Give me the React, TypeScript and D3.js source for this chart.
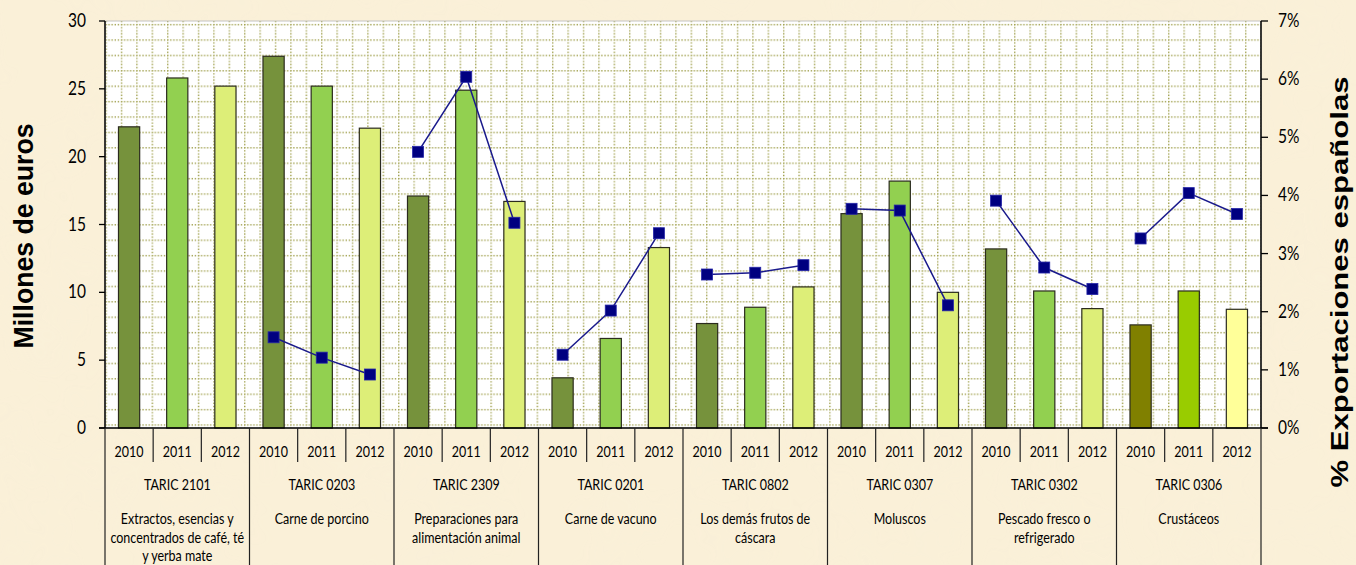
import React from 'react';
import * as d3 from 'd3';

// categorias (TARIC) y descripciones
const groups = ['TARIC 2101', 'TARIC 0203', 'TARIC 2309', 'TARIC 0201', 'TARIC 0802', 'TARIC 0307', 'TARIC 0302', 'TARIC 0306'];
const descriptions = [
  ['Extractos, esencias y', 'concentrados de café, té', 'y yerba mate'],
  ['Carne de porcino'],
  ['Preparaciones para', 'alimentación animal'],
  ['Carne de vacuno'],
  ['Los demás frutos de', 'cáscara'],
  ['Moluscos'],
  ['Pescado fresco o', 'refrigerado'],
  ['Crustáceos'],
];
const years = ['2010', '2011', '2012'];

// Millones de euros
const valores2010 = [22.2, 27.4, 17.1, 3.7, 7.7, 15.8, 13.2, 7.6];
const valores2011 = [25.8, 25.2, 24.9, 6.6, 8.9, 18.2, 10.1, 10.1];
const valores2012 = [25.2, 22.1, 16.7, 13.3, 10.4, 10.0, 8.8, 8.75];

// % Exportaciones españolas
const cuota2010 = [null, 1.56, 4.75, 1.26, 2.64, 3.77, 3.91, 3.26];
const cuota2011 = [null, 1.21, 6.04, 2.02, 2.67, 3.74, 2.76, 4.04];
const cuota2012 = [null, 0.92, 3.53, 3.35, 2.80, 2.11, 2.39, 3.68];

const leftTicks = [0, 5, 10, 15, 20, 25, 30];
const rightTicks = [0, 1, 2, 3, 4, 5, 6, 7];

const barColors = ['#76923C', '#92D050', '#DDEE78'];
const lastGroupColors = ['#808000', '#99CC00', '#FFFF99'];

const font = 'Lato, "Open Sans", sans-serif';

export default function App() {
  const width = 1356;
  const height = 565;
  const margin = { top: 21, right: 95, bottom: 137, left: 105 };
  const plotBottom = height - margin.bottom;
  const plotRight = width - margin.right;

  const x0 = d3.scaleBand().domain(groups).range([margin.left, plotRight]);
  const x1 = d3.scaleBand().domain(years).range([0, x0.bandwidth()]).paddingInner(0.56).paddingOuter(0.28);
  const slot = x0.bandwidth() / years.length;
  const y = d3.scaleLinear().domain([0, 30]).range([plotBottom, margin.top]);
  const y2 = d3.scaleLinear().domain([0, 7]).range([plotBottom, margin.top]);

  const series = [valores2010, valores2011, valores2012];
  const cuotas = [cuota2010, cuota2011, cuota2012];

  const line = d3.line<{ x: number; v: number }>()
    .x(d => d.x)
    .y(d => y2(d.v));

  const vy = 1.25; // the original text is a bit taller than wide

  return (
    <svg width={width} height={height} style={{ position: 'absolute', left: 0, top: 0 }}>
      <defs>
        <pattern id="grid" patternUnits="userSpaceOnUse" x={13} y={8.5} width={15.4} height={15.4}>
          <rect width={15.4} height={15.4} fill="#ffffff" />
          <line x1={0} x2={15.4} y1={0.7} y2={0.7} stroke="#a0a04c" strokeWidth={1.4} strokeDasharray="1.3 1.78" />
          <line x1={0.7} x2={0.7} y1={0} y2={15.4} stroke="#a0a04c" strokeWidth={1.4} strokeDasharray="1.3 1.78" />
        </pattern>
        <filter id="paper" x="0" y="0" width="100%" height="100%">
          <feTurbulence type="fractalNoise" baseFrequency="0.012" numOctaves={3} seed={4} />
          <feColorMatrix type="matrix" values="0 0 0 0 0.95  0 0 0 0 0.87  0 0 0 0 0.70  0 0 0 1.1 -0.45" />
        </filter>
      </defs>

      {/* fondo */}
      <rect width={width} height={height} fill="#FAF0D8" />
      <rect width={width} height={height} filter="url(#paper)" opacity={0.55} />

      {/* area de trazado */}
      <rect x={margin.left} y={margin.top} width={plotRight - margin.left} height={plotBottom - margin.top}
        fill="url(#grid)" stroke="#c4c4c4" strokeWidth={1} />

      {/* barras */}
      {groups.map((g, gi) => (
        <g key={g} transform={`translate(${x0(g)},0)`}>
          {years.map((yr, yi) => {
            const v = series[yi][gi];
            const colors = gi === groups.length - 1 ? lastGroupColors : barColors;
            return (
              <rect key={yr} x={x1(yr)} y={y(v)} width={x1.bandwidth()} height={plotBottom - y(v)}
                fill={colors[yi]} stroke="#2b2b1e" strokeWidth={1.2} />
            );
          })}
        </g>
      ))}

      {/* lineas de cuota */}
      {groups.map((g, gi) => {
        const pts = years
          .map((yr, yi) => ({ x: (x0(g) as number) + (x1(yr) as number) + x1.bandwidth() / 2, v: cuotas[yi][gi] as number }))
          .filter(p => p.v !== null && p.v !== undefined);
        if (!pts.length) return null;
        return (
          <g key={g}>
            <path d={line(pts) || ''} fill="none" stroke="#1a1a8c" strokeWidth={1.5} />
            {pts.map((p, i) => (
              <rect key={i} x={p.x - 5.5} y={y2(p.v) - 5.5} width={11} height={11} fill="#000080" stroke="#2626a8" strokeWidth={0.8} />
            ))}
          </g>
        );
      })}

      {/* eje izquierdo */}
      <line x1={margin.left} x2={margin.left} y1={margin.top} y2={plotBottom} stroke="#000" strokeWidth={1.5} />
      {leftTicks.map(t => (
        <g key={t}>
          <line x1={margin.left - 6} x2={margin.left} y1={y(t)} y2={y(t)} stroke="#000" strokeWidth={1.3} />
          <text transform={`translate(${margin.left - 19},${y(t) + 6}) scale(1,${vy})`} textAnchor="end"
            fontFamily={font} fontSize={15.5} fill="#000">{t}</text>
        </g>
      ))}

      {/* eje derecho */}
      <line x1={plotRight} x2={plotRight} y1={margin.top} y2={plotBottom} stroke="#000" strokeWidth={1.5} />
      {rightTicks.map(t => (
        <g key={t}>
          <line x1={plotRight} x2={plotRight + 7} y1={y2(t)} y2={y2(t)} stroke="#000" strokeWidth={1.3} />
          <text transform={`translate(${plotRight + 17},${y2(t) + 6}) scale(1,${vy})`} textAnchor="start"
            fontFamily={font} fontSize={15.5} fill="#000">{d3.format('.0%')(t / 100)}</text>
        </g>
      ))}

      {/* eje de categorias */}
      <line x1={margin.left - 6} x2={plotRight + 7} y1={plotBottom} y2={plotBottom} stroke="#000" strokeWidth={1.5} />
      {groups.map((g, gi) => {
        const gx = x0(g) as number;
        return (
          <g key={g}>
            <line x1={gx} x2={gx} y1={plotBottom} y2={height} stroke="#222" strokeWidth={1.2} />
            {years.map((yr, yi) => (
              <g key={yr}>
                {yi > 0 && <line x1={gx + yi * slot} x2={gx + yi * slot} y1={plotBottom} y2={462} stroke="#222" strokeWidth={1.2} />}
                <text transform={`translate(${gx + (x1(yr) as number) + x1.bandwidth() / 2},457) scale(1,${vy})`}
                  textAnchor="middle" fontFamily={font} fontSize={12.5} fill="#000">{yr}</text>
              </g>
            ))}
            <text transform={`translate(${gx + x0.bandwidth() / 2},490) scale(1,${vy})`} textAnchor="middle"
              fontFamily={font} fontSize={12.5} fill="#000">{g}</text>
            {descriptions[gi].map((d, di) => (
              <text key={di} transform={`translate(${gx + x0.bandwidth() / 2},${524 + di * 18.5}) scale(1,${vy})`}
                textAnchor="middle" fontFamily={font} fontSize={12.5} fill="#000">{d}</text>
            ))}
          </g>
        );
      })}
      <line x1={plotRight} x2={plotRight} y1={plotBottom} y2={height} stroke="#222" strokeWidth={1.2} />

      {/* titulos de ejes */}
      <text transform={`translate(33,236) rotate(-90)`} textAnchor="middle" fontFamily='"Liberation Sans", Arial, sans-serif'
        fontWeight="bold" fontSize={27} textLength={225} lengthAdjust="spacingAndGlyphs" fill="#000">Millones de euros</text>
      <text transform={`translate(1348,282) rotate(-90)`} textAnchor="middle" fontFamily='"Liberation Sans", Arial, sans-serif'
        fontWeight="bold" fontSize={24} textLength={411} lengthAdjust="spacingAndGlyphs" fill="#000">% Exportaciones españolas</text>
    </svg>
  );
}
